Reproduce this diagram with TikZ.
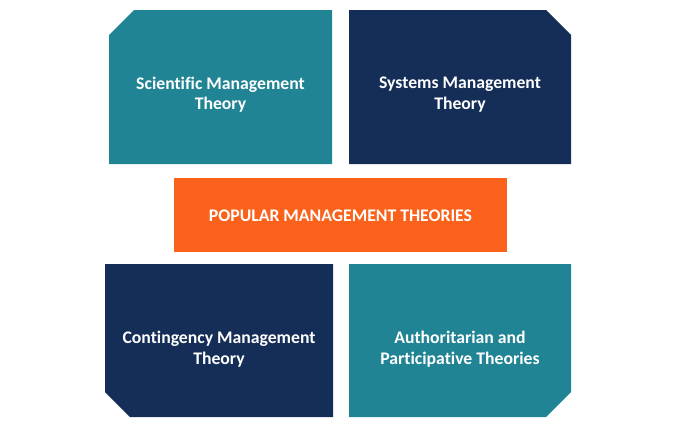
\documentclass[tikz,border=0pt]{standalone}
\usepackage{fontspec}
\setmainfont{Carlito}[Ligatures=CommonOff]
\definecolor{teal}{RGB}{32,132,148}
\definecolor{navy}{RGB}{21,46,87}
\definecolor{orange}{RGB}{250,98,28}
\begin{document}
\begin{tikzpicture}[x=1pt, y=-1pt,
    theory/.style={text=white, font=\bfseries\fontsize{17.7}{20.5}\selectfont, align=center}]
    \useasboundingbox (0, 0) rectangle (690, 429);
    % four theory blocks with one cut corner each
    \fill [teal] (109, 35) -- (134, 10) -- (332, 10) -- (332, 164) -- (109, 164) -- cycle;
    \fill [navy] (349, 10) -- (546, 10) -- (571, 35) -- (571, 164) -- (349, 164) -- cycle;
    \fill [navy] (105, 264) -- (333, 264) -- (333, 417) -- (130, 417) -- (105, 392) -- cycle;
    \fill [teal] (349, 264) -- (571, 264) -- (571, 392) -- (546, 417) -- (349, 417) -- cycle;
    \fill [orange] (174, 178) rectangle (507, 252);
    \node [theory] (scientific) at (220.5, 94.5) {Scientific Management\\Theory};
    \node [theory] (systems) at (460, 94.5) {Systems Management\\Theory};
    \node [theory] (popular) at (340.5, 216) {POPULAR MANAGEMENT THEORIES};
    \node [theory] (contingency) at (219, 349) {Contingency Management\\Theory};
    \node [theory] (authoritarian) at (460, 349) {Authoritarian and\\Participative Theories};
  \end{tikzpicture}
\end{document}
